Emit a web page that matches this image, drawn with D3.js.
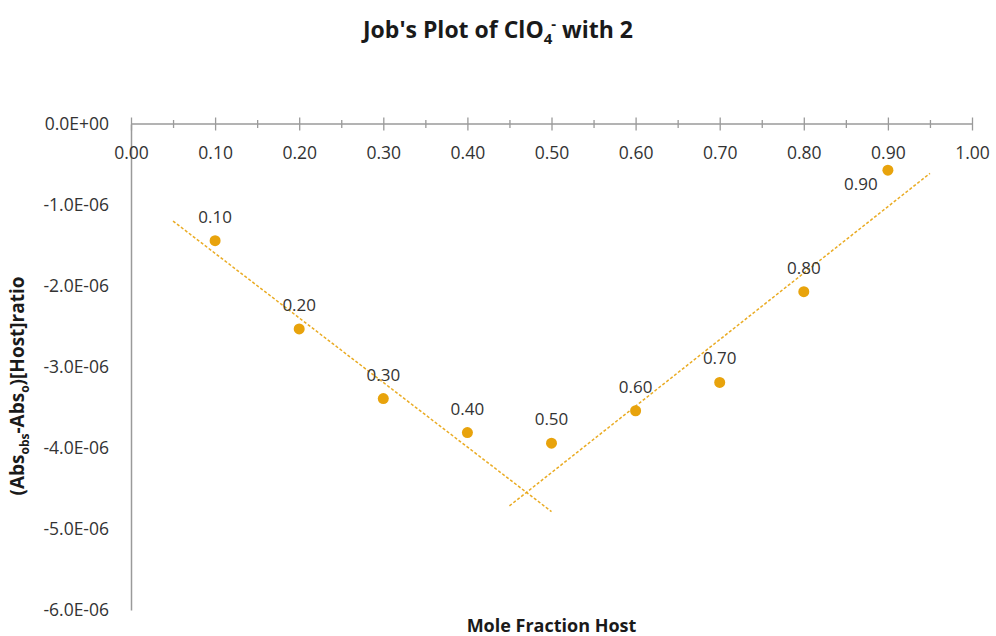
<!DOCTYPE html>
<html>
<head>
<meta charset="utf-8">
<script src="https://cdn.jsdelivr.net/npm/d3@7"></script>
<style>
  html, body { margin: 0; padding: 0; background: #fff; }
  svg { display: block; font-family: "Open Sans", "Noto Sans", sans-serif; }
</style>
</head>
<body>
<svg id="chart" width="996" height="636"></svg>
<script>
// Mole fraction of host (x) and the measured response (y)
const moleFraction = [0.10, 0.20, 0.30, 0.40, 0.50, 0.60, 0.70, 0.80, 0.90];
const response = [-1.44e-6, -2.53e-6, -3.39e-6, -3.81e-6, -3.94e-6, -3.54e-6, -3.19e-6, -2.07e-6, -0.57e-6];

// Linear trendlines: which points each fit uses, and the x span it is drawn over
const leftFitX = [0.10, 0.20, 0.30, 0.40];
const leftSpan = [0.05, 0.50];
const rightFitX = [0.50, 0.60, 0.70, 0.80, 0.90];
const rightSpan = [0.45, 0.95];

// Axis ticks
const xMajorTicks = [0, 0.1, 0.2, 0.3, 0.4, 0.5, 0.6, 0.7, 0.8, 0.9, 1.0];
const xMinorTicks = [0.05, 0.15, 0.25, 0.35, 0.45, 0.55, 0.65, 0.75, 0.85, 0.95];
const yTicks = [0, -1e-6, -2e-6, -3e-6, -4e-6, -5e-6, -6e-6];

const gold = "#E8A30C";
const axisGrey = "#9a9a9a";
const textDark = "#333";
const tickFont = 17.5;

const svg = d3.select("#chart");

const x = d3.scaleLinear().domain([0, 1]).range([131, 972]);
const y = d3.scaleLinear().domain([0, -6e-6]).range([124, 610]);

// Excel-style scientific number format, e.g. -1.0E-06
function sci(v) {
  if (v === 0) return "0.0E+00";
  const e = Math.floor(Math.log10(Math.abs(v)));
  const m = v / Math.pow(10, e);
  const sign = e < 0 ? "-" : "+";
  return m.toFixed(1) + "E" + sign + String(Math.abs(e)).padStart(2, "0");
}

// Title
const title = svg.append("text")
  .attr("x", 498).attr("y", 38)
  .attr("text-anchor", "middle")
  .attr("font-size", 23).attr("font-weight", "bold").attr("fill", "#1a1a1a");
title.append("tspan").text("Job's Plot of ClO");
title.append("tspan").attr("font-size", 15).attr("dy", 6).text("4");
title.append("tspan").attr("font-size", 15).attr("dy", -15).attr("dx", -1).text("-");
title.append("tspan").attr("dy", 9).text(" with 2");

// Y axis (line + labels, no ticks)
const yAxis = svg.append("g")
  .attr("transform", `translate(${x(0)},0)`)
  .call(d3.axisLeft(y).tickValues(yTicks).tickSize(0).tickPadding(22).tickFormat(sci));
yAxis.select(".domain").attr("stroke", axisGrey).attr("stroke-width", 1.5);
yAxis.selectAll("text").attr("font-size", tickFont).attr("fill", textDark)
  .attr("font-family", "Open Sans, sans-serif");

// X axis at y = 0: crossing major and minor ticks
const xMinor = svg.append("g")
  .attr("transform", `translate(0,${y(0) - 4})`)
  .call(d3.axisBottom(x).tickValues(xMinorTicks).tickSize(8).tickFormat(""));
xMinor.select(".domain").remove();
xMinor.selectAll("line").attr("stroke", axisGrey).attr("stroke-width", 1.3);

const xMajor = svg.append("g")
  .attr("transform", `translate(0,${y(0) - 6.5})`)
  .call(d3.axisBottom(x).tickValues(xMajorTicks).tickSize(13).tickPadding(16).tickFormat(d3.format(".2f")));
xMajor.select(".domain").remove();
xMajor.selectAll("line").attr("stroke", axisGrey).attr("stroke-width", 1.3);
xMajor.selectAll("text").attr("font-size", tickFont).attr("fill", textDark)
  .attr("font-family", "Open Sans, sans-serif");

svg.append("line")
  .attr("x1", x(0)).attr("x2", x(1))
  .attr("y1", y(0)).attr("y2", y(0))
  .attr("stroke", axisGrey).attr("stroke-width", 1.5);

// Least-squares trendlines
function fitLine(xs) {
  const ys = xs.map(v => response[moleFraction.findIndex(m => Math.abs(m - v) < 1e-9)]);
  const mx = d3.mean(xs), my = d3.mean(ys);
  const sxy = d3.sum(xs, (v, i) => (v - mx) * (ys[i] - my));
  const sxx = d3.sum(xs, v => (v - mx) * (v - mx));
  const slope = sxy / sxx;
  return v => my + slope * (v - mx);
}
[[leftFitX, leftSpan], [rightFitX, rightSpan]].forEach(([xs, span]) => {
  const f = fitLine(xs);
  svg.append("line")
    .attr("x1", x(span[0])).attr("y1", y(f(span[0])))
    .attr("x2", x(span[1])).attr("y2", y(f(span[1])))
    .attr("stroke", gold).attr("stroke-width", 1.5)
    .attr("stroke-dasharray", "3,2").attr("opacity", 0.9);
});

// Data points
const pts = moleFraction.map((m, i) => ({ m, v: response[i] }));
svg.append("g").selectAll("circle").data(pts).join("circle")
  .attr("cx", d => x(d.m)).attr("cy", d => y(d.v))
  .attr("r", 5.5).attr("fill", gold);

// Data labels (x value); a label that would run into the axis labels moves left and down
svg.append("g").selectAll("text").data(pts).join("text")
  .attr("x", d => y(d.v) - 24 < 185 ? x(d.m) - 27 : x(d.m))
  .attr("y", d => y(d.v) - 24 < 185 ? y(d.v) + 14 : y(d.v) - 24)
  .attr("dy", "0.35em")
  .attr("text-anchor", "middle")
  .attr("font-size", 17).attr("fill", textDark)
  .text(d => d3.format(".2f")(d.m));

// Axis titles
svg.append("text")
  .attr("x", (x(0) + x(1)) / 2).attr("y", 632)
  .attr("text-anchor", "middle")
  .attr("font-size", 18).attr("font-weight", "bold").attr("fill", "#1a1a1a")
  .text("Mole Fraction Host");

const yTitle = svg.append("text")
  .attr("transform", "translate(24,386) rotate(-90)")
  .attr("text-anchor", "middle")
  .attr("font-size", 19).attr("font-weight", "bold").attr("fill", "#1a1a1a");
yTitle.append("tspan").text("(Abs");
yTitle.append("tspan").attr("font-size", 12).attr("dy", 5).text("obs");
yTitle.append("tspan").attr("dy", -5).text("-Abs");
yTitle.append("tspan").attr("font-size", 12).attr("dy", 5).text("o");
yTitle.append("tspan").attr("dy", -5).text(")[Host]ratio");
</script>
</body>
</html>
